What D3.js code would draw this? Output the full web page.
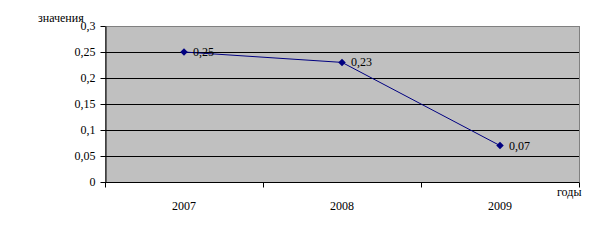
<!DOCTYPE html>
<html>
<head>
<meta charset="utf-8">
<script src="https://cdn.jsdelivr.net/npm/d3@7"></script>
<style>
  body { margin: 0; background: #fff; }
  svg text { font-family: "Liberation Serif", "Times New Roman", serif !important; font-size: 12px !important; fill: #000; }
</style>
</head>
<body>
<div id="chart"></div>
<script>
// data
const years = ["2007", "2008", "2009"];
const values = [0.25, 0.23, 0.07];
const yTicks = [0, 0.05, 0.1, 0.15, 0.2, 0.25, 0.3];
const yLabels = ["0", "0,05", "0,1", "0,15", "0,2", "0,25", "0,3"];

const W = 594, H = 252;
const margin = {top: 26, right: 15, bottom: 70, left: 105};
const width = W - margin.left - margin.right,
      height = H - margin.top - margin.bottom;

const svg = d3.select("#chart")
              .append("svg")
              .attr("width", W)
              .attr("height", H);

const g = svg.append("g")
             .attr("transform", `translate(${margin.left},${margin.top})`);

const x = d3.scaleBand()
            .domain(years)
            .range([0, width]);

const y = d3.scaleLinear()
            .domain([0, 0.3])
            .range([height, 0]);

// plot area background + border
g.append("rect")
 .attr("x", 0)
 .attr("y", 0)
 .attr("width", width)
 .attr("height", height)
 .attr("fill", "#c0c0c0")
 .attr("stroke", "#808080")
 .attr("stroke-width", 1)
 .attr("shape-rendering", "crispEdges");

// gridlines
g.selectAll("line.grid")
 .data(yTicks.filter(t => t > 0 && t < 0.3))
 .enter()
 .append("line")
 .attr("x1", 0)
 .attr("x2", width)
 .attr("y1", d => Math.round(y(d)) + 0.5)
 .attr("y2", d => Math.round(y(d)) + 0.5)
 .attr("stroke", "#000")
 .attr("stroke-width", 1);

// y axis
const yAxis = g.append("g")
 .attr("transform", "translate(0.5,0)")
 .call(d3.axisLeft(y).tickValues(yTicks).tickSize(5).tickSizeOuter(0)
        .tickFormat((d, i) => yLabels[i]));
yAxis.select(".domain").attr("stroke", "#000");
yAxis.selectAll(".tick line").attr("stroke", "#000");
yAxis.selectAll("text")
     .attr("x", -10)
     .attr("fill", "#000");

// x axis with ticks at category boundaries
const xAxis = g.append("g")
 .attr("transform", `translate(0,${height + 0.5})`);
xAxis.append("line")
     .attr("x1", 0).attr("x2", width)
     .attr("stroke", "#000");
const bounds = years.map(d => x(d)).concat([width]);
xAxis.selectAll("line.tk")
     .data(bounds)
     .enter()
     .append("line")
     .attr("x1", d => Math.round(d) + 0.5)
     .attr("x2", d => Math.round(d) + 0.5)
     .attr("y1", 0)
     .attr("y2", 5)
     .attr("stroke", "#000");
xAxis.selectAll("text")
     .data(years)
     .enter()
     .append("text")
     .attr("x", d => x(d) + x.bandwidth() / 2)
     .attr("y", 27)
     .attr("text-anchor", "middle")
     .text(d => d);

// axis titles
svg.append("text")
   .attr("x", 38)
   .attr("y", 22)
   .text("значения");

svg.append("text")
   .attr("x", 557)
   .attr("y", 196)
   .text("годы");

// line
const pts = years.map((d, i) => ({year: d, value: values[i]}));

const line = d3.line()
               .x(d => x(d.year) + x.bandwidth() / 2)
               .y(d => y(d.value));

g.append("path")
 .datum(pts)
 .attr("fill", "none")
 .attr("stroke", "#000080")
 .attr("stroke-width", 1)
 .attr("d", line);

g.selectAll("path.marker")
 .data(pts)
 .enter()
 .append("path")
 .attr("d", d3.symbol().type(d3.symbolDiamond2).size(36))
 .attr("transform", d => `translate(${x(d.year) + x.bandwidth() / 2},${y(d.value)})`)
 .attr("fill", "#000080");

// data labels
g.selectAll("text.lbl")
 .data(pts)
 .enter()
 .append("text")
 .attr("x", d => x(d.year) + x.bandwidth() / 2 + 9)
 .attr("y", d => y(d.value) + 4)
 .text(d => String(d.value).replace(".", ","));
</script>
</body>
</html>
